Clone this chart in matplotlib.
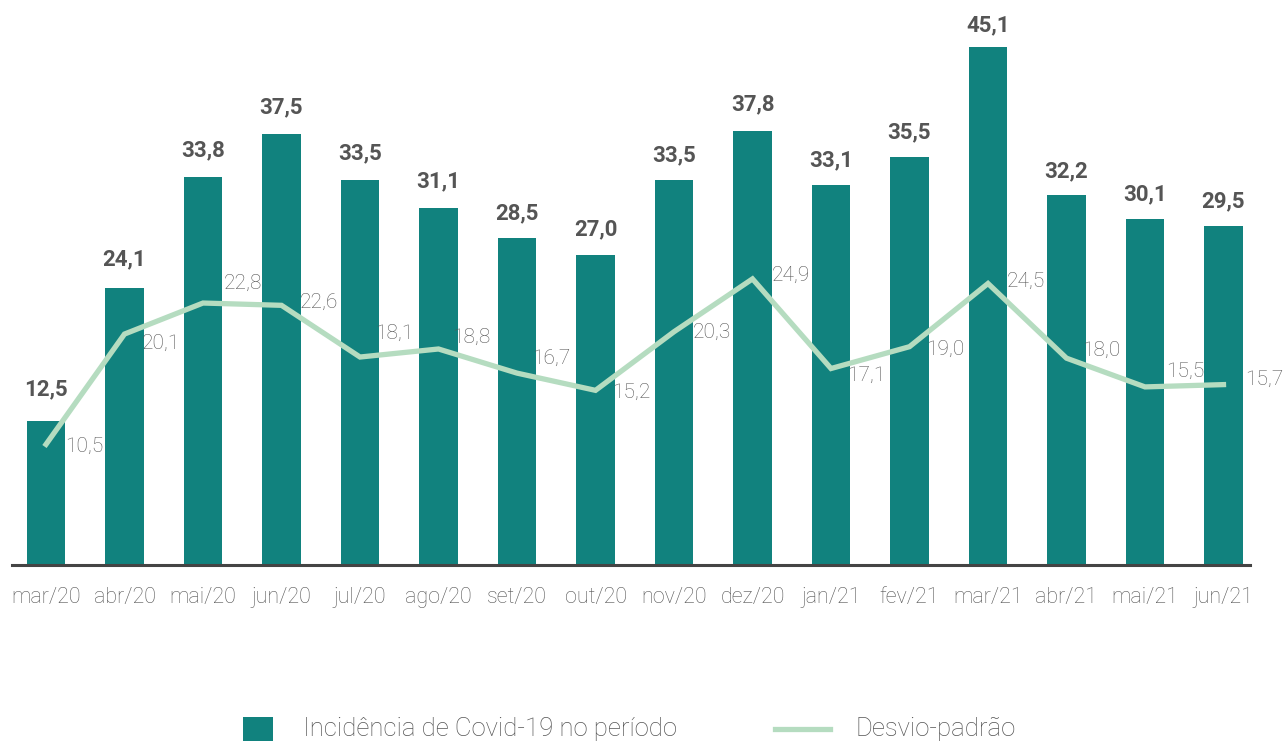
import matplotlib
matplotlib.use("Agg")
import matplotlib.pyplot as plt
from matplotlib.patches import Rectangle
from matplotlib.lines import Line2D

categories = ["mar/20", "abr/20", "mai/20", "jun/20", "jul/20", "ago/20", "set/20", "out/20",
              "nov/20", "dez/20", "jan/21", "fev/21", "mar/21", "abr/21", "mai/21", "jun/21"]
incidencia = [12.5, 24.1, 33.8, 37.5, 33.5, 31.1, 28.5, 27.0, 33.5, 37.8, 33.1, 35.5, 45.1, 32.2, 30.1, 29.5]
desvio = [10.5, 20.1, 22.8, 22.6, 18.1, 18.8, 16.7, 15.2, 20.3, 24.9, 17.1, 19.0, 24.5, 18.0, 15.5, 15.7]

# label offsets (pixels) - style only
bar_lbl_gap = [26, 23, 20, 21, 21, 20, 18, 19, 19, 20, 18, 19, 15, 18, 19, 19]
line_lbl_off = [(38, -2), (36, -9), (40, 20), (37, 3), (34, 24), (33, 12), (34, 15), (36, -2),
                (38, -1), (38, 4), (35, -7), (36, -3), (38, 2), (35, 8), (40, 16), (41, 5)]

plt.rcParams['font.family'] = ['Roboto', 'DejaVu Sans']

BAR = "#11827e"
LINE = "#b5dcc0"
TXT = "#555555"
W, H = 1287, 741
fig = plt.figure(figsize=(W / 100, H / 100), dpi=100)
ax = fig.add_axes([12 / W, (H - 565) / H, 1238 / W, 48 * 11.49 / H])

x = list(range(len(categories)))
ax.bar(x, incidencia, width=0.485, color=BAR, zorder=2)
ax.plot(x, desvio, color=LINE, lw=3.8, zorder=3, solid_joinstyle='miter')

for xi, v, g in zip(x, incidencia, bar_lbl_gap):
    ax.annotate(f"{v:.1f}".replace(".", ","), (xi, v), xytext=(0, g), textcoords='offset pixels',
                ha='center', va='baseline', fontsize=16, fontweight='bold', color='#555555')

for xi, v, (dx, dy) in zip(x, desvio, line_lbl_off):
    ax.annotate(f"{v:.1f}".replace(".", ","), (xi, v), xytext=(dx, dy), textcoords='offset pixels',
                ha='center', va='center', fontsize=15, fontweight='light', color=TXT, zorder=4)

ax.set_xlim(-34 / 78.5, (1250 - 46) / 78.5)
ax.set_ylim(0, 48)
ax.set_xticks(x)
ax.set_xticklabels(categories, fontsize=15.5, fontweight='light', color=TXT)
ax.tick_params(axis='x', length=0, pad=15.5)
ax.set_yticks([])
for s in ['top', 'right', 'left']:
    ax.spines[s].set_visible(False)
ax.spines['bottom'].set_color('#444444')
ax.spines['bottom'].set_linewidth(2.2)
ax.spines['bottom'].set_zorder(5)

# legend (manual, in figure pixels)
def fx(px):
    return px / W

def fy(py):
    return (H - py) / H

fig.patches.append(Rectangle((fx(243), fy(746)), 30 / W, 29 / H, transform=fig.transFigure,
                             facecolor=BAR, edgecolor='none'))
fig.text(fx(303), fy(729), "Incidência de Covid-19 no período", fontsize=18.5, fontweight='light',
         color=TXT, ha='left', va='center')
fig.lines.append(Line2D([fx(775), fx(830)], [fy(729), fy(729)], transform=fig.transFigure,
                        color=LINE, lw=3.8))
fig.text(fx(855), fy(729), "Desvio-padrão", fontsize=18.5, fontweight='light',
         color=TXT, ha='left', va='center')

fig.savefig("out.png", dpi=100)
